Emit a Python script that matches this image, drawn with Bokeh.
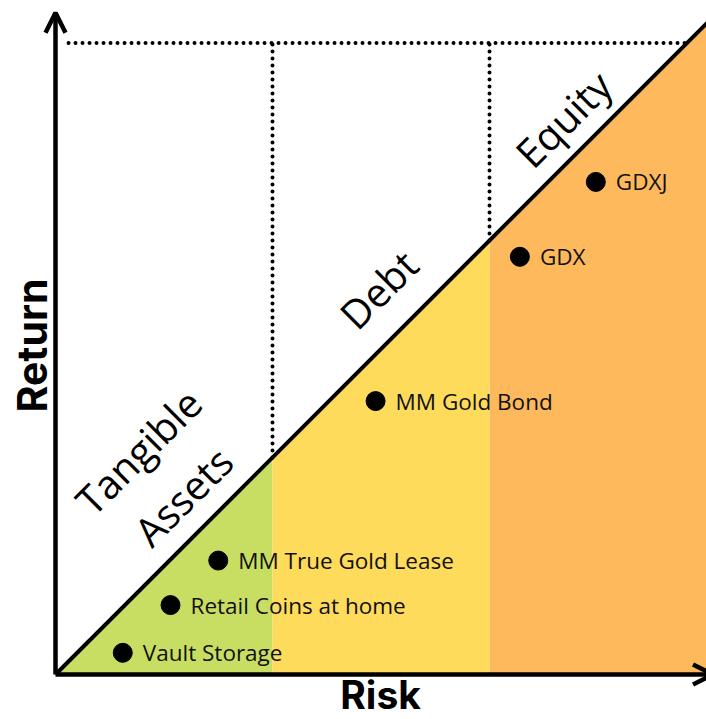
import math
from bokeh.plotting import figure
from bokeh.models import Range1d, Arrow, OpenHead, ColumnDataSource
from bokeh.core.properties import value
from bokeh.embed import file_html
from bokeh.resources import INLINE

# Data
names = ["Vault Storage", "Retail Coins at home", "MM True Gold Lease",
         "MM Gold Bond", "GDX", "GDXJ"]
risk = [0.31, 0.53, 0.75, 1.475, 2.14, 2.49]
ret = [0.10, 0.32, 0.525, 1.26, 1.925, 2.27]

band_edges = [0, 1, 2, 3]
band_names = ["Tangible\nAssets", "Debt", "Equity"]
band_colors = ["#c8de62", "#fedb5b", "#fdb95b"]
band_label_x = [0.485, 1.488, 2.34]
band_label_y = [0.925, 1.775, 2.56]
top_return = 2.91

W, H = 706, 719
p = figure(width=W, height=H, output_backend="svg", toolbar_location=None,
           x_range=Range1d(-55 / 217, 651 / 217), y_range=Range1d(-45 / 217, 674 / 217),
           min_border=0, min_border_left=0, min_border_right=0,
           min_border_top=0, min_border_bottom=0)
p.axis.visible = False
p.grid.visible = False
p.outline_line_color = None
p.background_fill_color = "white"
p.border_fill_color = "white"

# Bands under the diagonal
xs, ys = [], []
for a, b in zip(band_edges[:-1], band_edges[1:]):
    xs.append([a, b, b, a])
    ys.append([0, 0, b, a])
p.patches(xs, ys, fill_color=band_colors, line_color=None)

# Dotted lines
p.line([0.06, top_return], [top_return, top_return], line_color="black",
       line_width=4, line_dash="0 7", line_cap="round")
for e in band_edges[1:-1]:
    p.line([e, e], [e, top_return], line_color="black",
           line_width=4, line_dash="0 7", line_cap="round")

# Diagonal
p.line([0, 3.05], [0, 3.05], line_color="black", line_width=4)

# Axes with arrows
p.add_layout(Arrow(end=OpenHead(size=20, line_width=4.5, line_color="black"),
                   x_start=0, y_start=0, x_end=0, y_end=3.05,
                   line_width=4.5, line_color="black"))
p.add_layout(Arrow(end=OpenHead(size=20, line_width=4.5, line_color="black"),
                   x_start=0, y_start=0, x_end=3.03, y_end=0,
                   line_width=4.5, line_color="black"))

# Points and labels
src = ColumnDataSource(dict(x=risk, y=ret, name=names))
p.scatter("x", "y", source=src, size=19, color="black")
p.text("x", "y", text="name", source=src, x_offset=20, text_baseline="middle",
       text_font=value("Open Sans"), text_font_size="22.5px", text_color="#111111")

# Band labels
p.text(band_label_x, band_label_y, text=band_names, angle=math.pi / 4,
       text_align="center", text_baseline="middle",
       text_font=value("Open Sans"), text_font_size="40px", text_color="black",
       text_line_height=1.15)

# Axis titles
p.text([-0.106], [1.516], text=["Return"], angle=math.pi / 2,
       text_align="center", text_baseline="middle",
       text_font=value("Inter"), text_font_style="bold",
       text_font_size="41px", text_color="black")
p.text([1.498], [-0.092], text=["Risk"],
       text_align="center", text_baseline="middle",
       text_font=value("Inter"), text_font_style="bold",
       text_font_size="39px", text_color="black")

open("out.html", "w").write(file_html(p, INLINE))
